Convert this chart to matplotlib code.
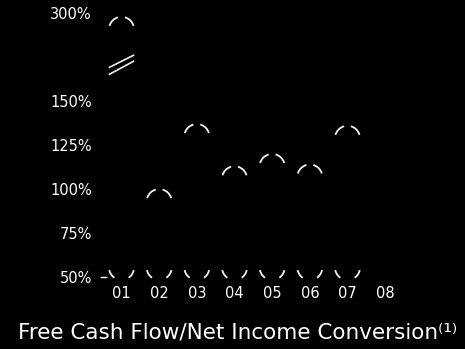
## Free cash flow / net income conversion, rounded bar outlines on black ##

import matplotlib
matplotlib.use("Agg")
import matplotlib.pyplot as plt
from matplotlib.patches import Arc
from matplotlib.transforms import Affine2D, ScaledTranslation
import numpy as np

years = ["01", "02", "03", "04", "05", "06", "07", "08"]
conversion = [294, 100, 137, 113, 120, 114, 136, None]   # % ; no value for 08
ytick_values = [50, 75, 100, 125, 150, 300]
ytick_labels = ["50%", "75%", "100%", "125%", "150%", "300%"]
base = 50
break_value = 213   # where the tall bar is cut

# broken axis: everything above 150% is squashed
CUT = 150.0
SQUASH = 1 / 3.0

def fwd(v):
    v = np.asarray(v, dtype=float)
    return np.where(v <= CUT, v, CUT + (v - CUT) * SQUASH)

def inv(v):
    v = np.asarray(v, dtype=float)
    return np.where(v <= CUT, v, CUT + (v - CUT) / SQUASH)


W, H = 465, 349
fig = plt.figure(figsize=(W / 100, H / 100), dpi=100, facecolor="black")
ax = fig.add_axes([107 / W, (H - 277) / H, (404 - 107) / W, (277 - 13.3) / H])
ax.set_facecolor("black")
ax.set_yscale("function", functions=(fwd, inv))
ax.set_xlim(-0.385, 7.5)
ax.set_ylim(50, 300)

for s in ax.spines.values():
    s.set_visible(False)

def px_at(x, y, dx=0, dy=0):
    # pixel offsets anchored on a data point
    return Affine2D().translate(dx, dy) + ScaledTranslation(x, y, ax.transData)

r = 12.5
edge = "#f2f2f2"
for i, v in enumerate(conversion):
    if v is None:
        continue
    top = px_at(i, v, 0, -r)
    bot = px_at(i, base, 0, r - 3)
    for t1, t2 in [(106, 164), (16, 74)]:
        ax.add_patch(Arc((0, 0), 2 * r, 2 * r, theta1=t1, theta2=t2,
                         transform=top, color=edge, lw=1.3, clip_on=False))
    for t1, t2 in [(192, 235), (305, 348)]:
        ax.add_patch(Arc((0, 0), 2 * r, 2 * r, theta1=t1, theta2=t2,
                         transform=bot, color=edge, lw=1.3, clip_on=False))

# break marks on the first bar
brk = px_at(0, break_value)
ax.plot([-12, 12], [-3, 9], color=edge, lw=1.2, transform=brk, clip_on=False)
ax.plot([-12, 12], [-10, 3], color=edge, lw=1.2, transform=brk, clip_on=False)

ax.set_xticks(range(len(years)))
ax.set_xticklabels(years)
ax.set_yticks(ytick_values)
ax.set_yticklabels(ytick_labels)
ax.minorticks_off()
ax.tick_params(axis="x", length=0, pad=6.5, labelsize=10.5, labelcolor="white")
ax.tick_params(axis="y", length=5, width=1, color="white", pad=5.8,
               labelsize=10.5, labelcolor="white")
for t in ax.yaxis.get_major_ticks()[1:]:
    t.tick1line.set_visible(False)

fig.text(0.51, (H - 333) / H, "Free Cash Flow/Net Income Conversion\u207d\u00b9\u207e",
         color="white", fontsize=15.5, ha="center", va="center")

fig.savefig("out.png", dpi=100, facecolor="black")
